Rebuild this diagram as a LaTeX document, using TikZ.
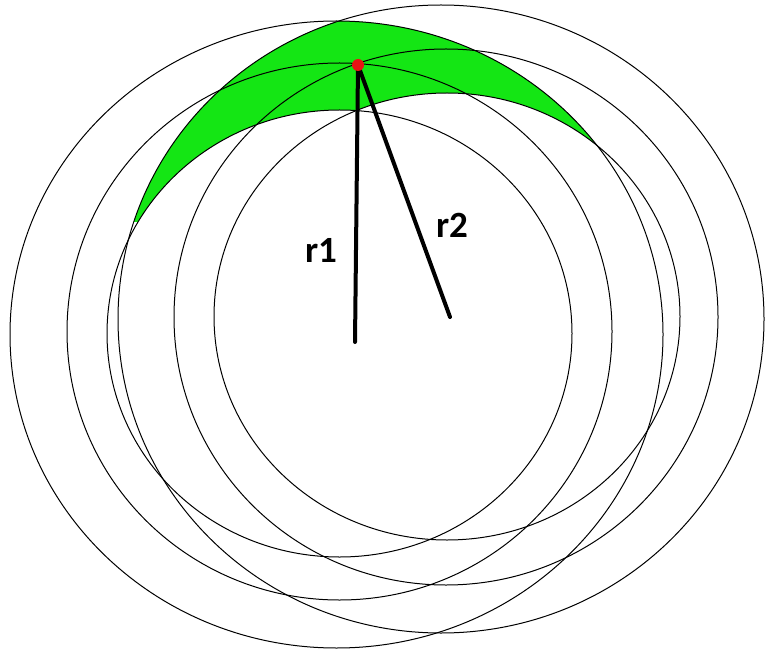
\documentclass[tikz,border=0pt]{standalone}
\usepackage{fontspec}
\setmainfont{Carlito}
\begin{document}
\begin{tikzpicture}[x=1pt,y=-1pt]
\definecolor{greenfill}{RGB}{20,230,20}
\definecolor{dotred}{RGB}{235,20,20}
\tikzset{
  ring/.style={draw=black, line width=1pt},
  radiusline/.style={draw=black, line width=4pt, line cap=round},
  lbl/.style={font=\fontsize{37}{40}\selectfont\bfseries, inner sep=0pt, text=black}
}
\useasboundingbox (0,0) rectangle (765,652);
% green region: inside both outer ellipses, outside both inner ellipses (upper part)
\begin{scope}
  \clip (441,319) ellipse [x radius=323pt, y radius=314pt];
  \clip (336.5,334.5) ellipse [x radius=326.5pt, y radius=313.5pt];
  \clip (0,0) rectangle (765,222);
  \fill[greenfill] (0,0) rectangle (765,652);
  \fill[white] (447,316.5) ellipse [x radius=233pt, y radius=223.5pt];
  \fill[white] (339.5,333.5) ellipse [x radius=232.5pt, y radius=223.5pt];
\end{scope}
% family A (around r2 centre)
\draw[ring] (447,316.5) ellipse [x radius=233pt, y radius=223.5pt];
\draw[ring] (446,317) ellipse [x radius=272pt, y radius=268pt];
\draw[ring] (441,319) ellipse [x radius=323pt, y radius=314pt];
% family B (around r1 centre)
\draw[ring] (339.5,333.5) ellipse [x radius=232.5pt, y radius=223.5pt];
\draw[ring] (339.5,331.5) ellipse [x radius=272.5pt, y radius=268.5pt];
\draw[ring] (336.5,334.5) ellipse [x radius=326.5pt, y radius=313.5pt];
% radii
\coordinate (P) at (358,65);
\coordinate (C1) at (355,342);
\coordinate (C2) at (450,317);
\draw[radiusline] (P) -- (C1);
\draw[radiusline] (P) -- (C2);
\fill[dotred] (P) circle [radius=6pt];
\node[lbl] (r1) at (321,250) {r1};
\node[lbl] (r2) at (452,225) {r2};
\end{tikzpicture}
\end{document}
